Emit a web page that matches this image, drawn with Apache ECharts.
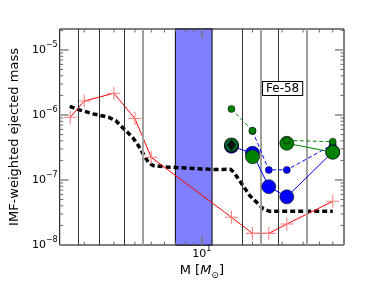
<!DOCTYPE html>
<html><head><meta charset="utf-8">
<script src="https://cdn.jsdelivr.net/npm/echarts@6/dist/echarts.min.js"></script>
<style>html,body{margin:0;padding:0;background:#fff}#c{width:382px;height:288px}</style>
</head><body><div id="c"></div>
<script>
// axis ranges
const xMin = 10 / 7, xMax = 70, yMin = 1e-8, yMax = 2.1e-5;
// red line (+ markers)
const redMass = [1.65, 2, 3, 4, 5, 15, 20, 25, 32, 60];
const redVals = [9.2e-7, 1.64e-6, 2.16e-6, 8.8e-7, 2.23e-7, 2.67e-8, 1.51e-8, 1.51e-8, 2.1e-8, 4.7e-8];
// black dotted curve
const blackMass = [1.64, 1.85, 2.26, 2.8, 3.07, 3.29, 3.6, 3.9, 4.22, 4.55, 4.83, 5.16, 6.18, 11.6, 14.8, 15.5, 17.3, 19.3, 21.7, 23.2, 25.4, 60];
const blackVals = [1.36e-6, 1.21e-6, 1.04e-6, 9.2e-7, 8.2e-7, 6.84e-7, 5.47e-7, 4.43e-7, 3.3e-7, 2.36e-7, 1.83e-7, 1.66e-7, 1.585e-7, 1.45e-7, 1.46e-7, 1.31e-7, 8.7e-8, 5.7e-8, 4.27e-8, 3.58e-8, 3.3e-8, 3.3e-8];
// model points
const modelMass = [15, 20, 25, 32, 60];
const blueLarge = [3.3e-7, 2.58e-7, 7.9e-8, 5.5e-8, 2.7e-7];
const blueSmall = [null, 5.67e-7, 1.43e-7, 1.43e-7, 3.5e-7];
const greenLarge = [null, 2.28e-7, null, 3.67e-7, 2.67e-7];
const greenSmall = [1.24e-6, 5.73e-7, null, 4.06e-7, 3.88e-7];
const starMass = [15];
const starVals = [3.45e-7];
// guides
const darkLines = [1.83, 2.47, 3.48, 17.4, 28.5];
const grayLines = [4.47, 22.3, 41.8];
const band = [6.96, 11.5];
// ticks
const xMajorTicks = [10];
const xMinorTicks = [2, 3, 4, 5, 6, 7, 8, 9, 20, 30, 40, 50, 60];
const yMajorTicks = [1e-8, 1e-7, 1e-6, 1e-5];
const yDecades = [1e-8, 1e-7, 1e-6, 1e-5];
const yMinorMult = [2, 3, 4, 5, 6, 7, 8, 9];
const yMinorTicks = [];
yDecades.forEach(d => yMinorMult.forEach(m => { if (d * m <= yMax) yMinorTicks.push(d * m); }));

const FONT = 'DejaVu Sans';
const pairs = (xs, ys) => xs.map((x, i) => [x, ys[i] == null ? '-' : ys[i]]);

function powLabel(v) {
  const e = Math.log10(v), r = Math.round(e);
  if (Math.abs(e - r) > 1e-6) return '';
  return '{b|10}{s|' + (r < 0 ? '\u2212' : '') + Math.abs(r) + '}';
}
const labelRich = {
  b: { fontSize: 11, fontFamily: FONT, color: '#000', lineHeight: 18 },
  s: { fontSize: 8, fontFamily: FONT, color: '#000', lineHeight: 8, verticalAlign: 'top' }
};

function tickSeries(vals, isX, len, color, width) {
  return {
    type: 'custom', coordinateSystem: 'cartesian2d', silent: true, z: 20,
    data: vals.map(v => isX ? [v, yMin] : [xMin, v]),
    renderItem: function (params, api) {
      const v = api.value(isX ? 0 : 1);
      let a, b, kids;
      if (isX) {
        a = api.coord([v, yMin]); b = api.coord([v, yMax]);
        kids = [
          { type: 'line', shape: { x1: a[0], y1: a[1], x2: a[0], y2: a[1] - len } },
          { type: 'line', shape: { x1: b[0], y1: b[1], x2: b[0], y2: b[1] + len } }];
      } else {
        a = api.coord([xMin, v]); b = api.coord([xMax, v]);
        kids = [
          { type: 'line', shape: { x1: a[0], y1: a[1], x2: a[0] + len, y2: a[1] } },
          { type: 'line', shape: { x1: b[0], y1: b[1], x2: b[0] - len, y2: b[1] } }];
      }
      kids.forEach(k => k.style = { stroke: color, lineWidth: width });
      return { type: 'group', children: kids };
    }
  };
}

const plusPath = 'path://M-1,-0.08 L-0.08,-0.08 L-0.08,-1 L0.08,-1 L0.08,-0.08 L1,-0.08 L1,0.08 L0.08,0.08 L0.08,1 L-0.08,1 L-0.08,0.08 L-1,0.08 Z';

const chart = echarts.init(document.getElementById('c'), null, { renderer: 'canvas' });
chart.setOption({
  animation: false,
  grid: { left: 57, right: 38, top: 29, bottom: 43, show: true, borderColor: '#000', borderWidth: 1, backgroundColor: 'transparent' },
  xAxis: {
    type: 'log', logBase: 10, min: xMin, max: xMax,
    axisLine: { show: false }, axisTick: { show: false }, splitLine: { show: false },
    axisLabel: { formatter: powLabel, rich: labelRich, margin: 0 },
    name: '{n|M [}{i|M}{sub|\u2299}{n|]}', nameLocation: 'middle', nameGap: 17,
    nameTextStyle: { rich: {
      n: { fontSize: 13, fontFamily: FONT, color: '#000', lineHeight: 18 },
      i: { fontSize: 13, fontFamily: FONT, fontStyle: 'italic', color: '#000', lineHeight: 18 },
      sub: { fontSize: 9, fontFamily: FONT, color: '#000', lineHeight: 9, verticalAlign: 'bottom' } } }
  },
  yAxis: {
    type: 'log', logBase: 10, min: yMin, max: yMax,
    axisLine: { show: false }, axisTick: { show: false }, splitLine: { show: false },
    axisLabel: { formatter: powLabel, rich: labelRich, margin: 2 },
    name: 'IMF-weighted ejected mass', nameLocation: 'middle', nameGap: 27,
    nameTextStyle: { fontSize: 13, fontFamily: FONT, color: '#000' }
  },
  graphic: [{
    type: 'text', left: 262, top: 81, z: 100,
    style: { text: 'Fe-58', font: '12px "DejaVu Sans"', fill: '#000', backgroundColor: '#fff',
      borderColor: '#000', borderWidth: 1, padding: [1, 3, 0, 3] }
  }],
  series: [
    { type: 'line', data: [], z: 1, silent: true,
      markArea: { silent: true, itemStyle: { color: '#8080ff', borderColor: '#000', borderWidth: 1 },
        data: [[{ xAxis: band[0] }, { xAxis: band[1] }]] },
      markLine: { silent: true, symbol: 'none', label: { show: false },
        data: darkLines.map(v => ({ xAxis: v, lineStyle: { color: '#333', width: 1, type: 'solid' } }))
          .concat(grayLines.map(v => ({ xAxis: v, lineStyle: { color: '#a0a0a0', width: 2, type: 'solid' } }))) } },
    { name: 'total', type: 'line', z: 3, data: pairs(blackMass, blackVals), symbol: 'none',
      lineStyle: { color: '#000', width: 3.5, type: [5, 3], cap: 'butt' } },
    { name: 'red', type: 'line', z: 4, data: pairs(redMass, redVals), symbol: plusPath, symbolSize: 13, showAllSymbol: true,
      itemStyle: { color: '#ff8080' }, lineStyle: { color: '#ff0000', width: 1 } },
    { name: 'blueLarge', type: 'line', z: 5, data: pairs(modelMass, blueLarge), symbol: 'circle', symbolSize: 14, showAllSymbol: true,
      itemStyle: { color: '#0000ff', borderColor: '#000', borderWidth: 0.6 }, lineStyle: { color: '#0000ff', width: 1 } },
    { name: 'blueSmall', type: 'line', z: 6, data: pairs(modelMass, blueSmall), symbol: 'circle', symbolSize: 7, showAllSymbol: true,
      itemStyle: { color: '#0000ff', borderColor: '#000', borderWidth: 0.5 }, lineStyle: { color: '#0000ff', width: 1, type: [4, 2.5] } },
    { name: 'greenLarge', type: 'line', z: 7, data: pairs(modelMass, greenLarge), symbol: 'circle', symbolSize: 14, showAllSymbol: true,
      itemStyle: { color: '#008000', borderColor: '#000', borderWidth: 0.6 }, lineStyle: { color: '#008000', width: 1 } },
    { name: 'greenStar', type: 'scatter', z: 7, data: pairs(starMass, starVals), symbol: 'circle', symbolSize: 14,
      itemStyle: { color: '#008000', borderColor: '#000', borderWidth: 1.2 } },
    { name: 'diamond', type: 'scatter', z: 8, data: pairs(starMass, starVals), symbol: 'diamond', symbolSize: [9, 12],
      itemStyle: { color: '#000' } },
    { name: 'greenSmall', type: 'line', z: 9, data: pairs(modelMass, greenSmall), symbol: 'circle', symbolSize: 7, showAllSymbol: true,
      itemStyle: { color: '#008000', borderColor: '#000', borderWidth: 0.5 }, lineStyle: { color: '#008000', width: 1, type: [4, 2.5] } },
    tickSeries(xMinorTicks, true, 3.5, '#666', 1),
    tickSeries(xMajorTicks, true, 9, '#777', 1.5),
    tickSeries(yMinorTicks, false, 3.5, '#666', 1),
    tickSeries(yMajorTicks, false, 9, '#888', 1.5)
  ]
});
</script></body></html>
